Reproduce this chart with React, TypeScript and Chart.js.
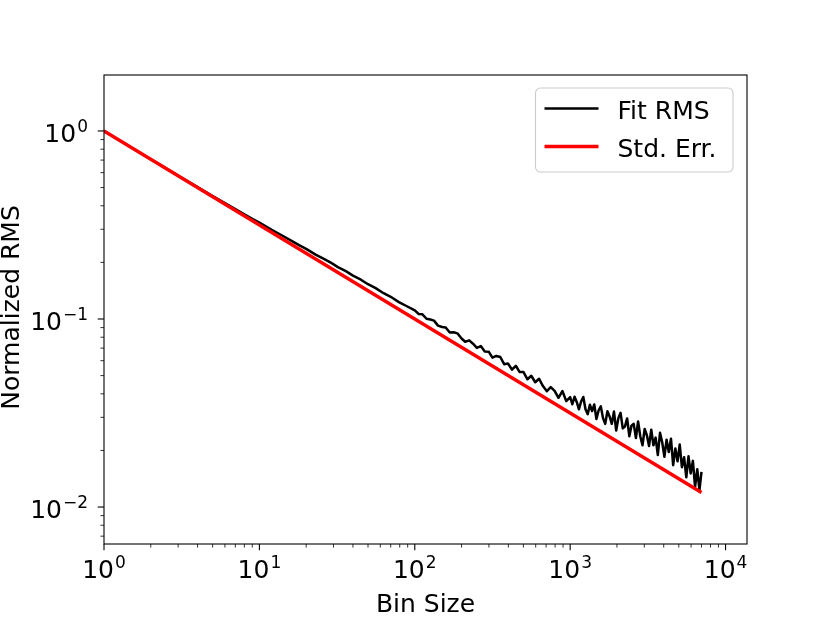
import React, { useEffect, useRef } from 'react';
import { Chart, registerables } from 'chart.js';

Chart.register(...registerables);

// Bin sizes and normalized RMS of the fit residuals
const binSizes = [
  1, 2, 3, 4, 5, 6, 7, 8, 9, 10, 12, 14, 16, 18, 20, 23, 26, 29, 32, 36, 40, 45, 50, 56, 63, 70, 79, 89,
  100, 106, 112, 119, 126, 133, 141, 150, 158, 168, 178, 188, 200, 211, 224, 237, 251, 266, 282, 299,
  316, 335, 355, 376, 398, 422, 447, 473, 501, 531, 562, 596, 631, 668, 708, 750, 794, 841, 891, 944,
  1000, 1033, 1067, 1102, 1139, 1176, 1215, 1255, 1297, 1339, 1384, 1429, 1476, 1525, 1575, 1627, 1681,
  1737, 1794, 1853, 1914, 1978, 2043, 2110, 2180, 2252, 2326, 2403, 2482, 2564, 2649, 2736, 2826, 2920,
  3016, 3116, 3218, 3325, 3434, 3548, 3665, 3786, 3911, 4040, 4173, 4311, 4453, 4600, 4752, 4909, 5071,
  5238, 5411, 5590, 5774, 5965, 6161, 6365, 6575, 6792, 7000,
];

const fitRms = [
  1.0, 0.707, 0.579, 0.5025, 0.4508, 0.4131, 0.3837, 0.3607, 0.3407, 0.3257, 0.2982, 0.278, 0.2613,
  0.247, 0.2359, 0.22, 0.2088, 0.1987, 0.1888, 0.1797, 0.17, 0.1618, 0.1531, 0.1459, 0.1371, 0.1312,
  0.1229, 0.1169,
  0.1111, 0.1063, 0.1059, 0.1003, 0.0994, 0.098, 0.0922, 0.0907, 0.0901, 0.0847, 0.085, 0.0839,
  0.0788, 0.0757, 0.077, 0.0739, 0.0702, 0.0718, 0.0672, 0.067, 0.0623, 0.0636, 0.0628, 0.0575,
  0.058, 0.0538, 0.0564, 0.0522, 0.0522, 0.0478, 0.0499, 0.0461, 0.0481, 0.044, 0.0413, 0.0434,
  0.0415, 0.0381, 0.0414, 0.0366,
  0.0384, 0.0352, 0.0386, 0.0362, 0.0331, 0.0364, 0.0385, 0.0331, 0.0312, 0.035,
  0.0324, 0.0351, 0.0294, 0.0327, 0.0343, 0.0297, 0.0277, 0.0323, 0.0303, 0.0277,
  0.0322, 0.0255, 0.0297, 0.0317, 0.0262, 0.0268, 0.0296, 0.0238, 0.0271, 0.0277,
  0.0233, 0.0285, 0.0238, 0.0213, 0.026, 0.0241, 0.0211, 0.0258, 0.0213, 0.0234,
  0.0189, 0.0248, 0.0221, 0.0185, 0.0228, 0.0196, 0.0231, 0.0167, 0.0205, 0.0175,
  0.0215, 0.0163, 0.0184, 0.0144, 0.0186, 0.0151, 0.0176, 0.0128, 0.0159, 0.0123,
  0.0154,
];

// Standard error line (straight in log-log), end points only
const stdErrBins = [1, 7000];
const stdErrValues = [1, 0.01195];

const seriesLabels = ['Fit RMS', 'Std. Err.'];
const seriesColors = ['#000000', '#ff0000'];
const xTickExponents = [0, 1, 2, 3, 4];
const yTickExponents = [-2, -1, 0];
const xTitle = 'Bin Size';
const yTitle = 'Normalized RMS';

const FONT = "'DejaVu Sans', sans-serif";

// draw "10^n" like matplotlib mathtext
function drawPower(ctx: CanvasRenderingContext2D, exp: number, x: number, y: number, align: string) {
  const base = '10';
  const sup = exp < 0 ? '\u2212' + Math.abs(exp) : String(exp);
  ctx.font = `25px ${FONT}`;
  const wb = ctx.measureText(base).width;
  ctx.font = `17px ${FONT}`;
  const ws = ctx.measureText(sup).width;
  const total = wb + 1 + ws;
  const left = align === 'center' ? x - total / 2 : x - total;
  ctx.textAlign = 'left';
  ctx.textBaseline = 'alphabetic';
  ctx.font = `25px ${FONT}`;
  ctx.fillText(base, left, y);
  ctx.font = `17px ${FONT}`;
  ctx.fillText(sup, left + wb + 1, y - 10);
}

const axesPlugin = {
  id: 'mplAxes',
  afterDraw(chart: any) {
    const { ctx, chartArea } = chart;
    const xs = chart.scales.x;
    const ys = chart.scales.y;
    const { left, right, top, bottom } = chartArea;
    ctx.save();
    ctx.fillStyle = '#000';
    ctx.strokeStyle = '#000';

    // x ticks
    for (let e = 0; e <= 4; e++) {
      for (let m = 1; m <= 9; m++) {
        const v = m * Math.pow(10, e);
        if (v < xs.min || v > xs.max) continue;
        const px = xs.getPixelForValue(v);
        ctx.lineWidth = m === 1 ? 1.1 : 0.8;
        ctx.beginPath();
        ctx.moveTo(px, bottom);
        ctx.lineTo(px, bottom + (m === 1 ? 6.3 : 3.6));
        ctx.stroke();
      }
    }
    // y ticks
    for (let e = -3; e <= 0; e++) {
      for (let m = 1; m <= 9; m++) {
        const v = m * Math.pow(10, e);
        if (v < ys.min || v > ys.max) continue;
        const py = ys.getPixelForValue(v);
        ctx.lineWidth = m === 1 ? 1.1 : 0.8;
        ctx.beginPath();
        ctx.moveTo(left, py);
        ctx.lineTo(left - (m === 1 ? 6.3 : 3.6), py);
        ctx.stroke();
      }
    }

    // spines
    ctx.lineWidth = 1.1;
    ctx.strokeRect(left, top, right - left, bottom - top);

    // tick labels
    xTickExponents.forEach((e) => {
      drawPower(ctx, e, xs.getPixelForValue(Math.pow(10, e)), bottom + 34, 'center');
    });
    yTickExponents.forEach((e) => {
      drawPower(ctx, e, left - 16, ys.getPixelForValue(Math.pow(10, e)) + 11, 'right');
    });

    // axis titles
    ctx.font = `25px ${FONT}`;
    ctx.textAlign = 'center';
    ctx.textBaseline = 'alphabetic';
    ctx.fillText(xTitle, (left + right) / 2, bottom + 68);
    ctx.save();
    ctx.translate(18.5, (top + bottom) / 2 - 2);
    ctx.rotate(-Math.PI / 2);
    ctx.fillText(yTitle, 0, 0);
    ctx.restore();

    // legend
    const bx = right - 211.5;
    const by = top + 13;
    ctx.beginPath();
    ctx.roundRect(bx, by, 197.5, 84, 5);
    ctx.fillStyle = 'rgba(255,255,255,0.8)';
    ctx.fill();
    ctx.strokeStyle = '#cccccc';
    ctx.lineWidth = 1.1;
    ctx.stroke();
    const rows = [by + 20.5, by + 58.5];
    seriesLabels.forEach((label, i) => {
      ctx.strokeStyle = seriesColors[i];
      ctx.lineWidth = i === 0 ? 2.4 : 3.4;
      ctx.beginPath();
      ctx.moveTo(bx + 9, rows[i]);
      ctx.lineTo(bx + 63, rows[i]);
      ctx.stroke();
      ctx.fillStyle = '#000';
      ctx.font = `25px ${FONT}`;
      ctx.textAlign = 'left';
      ctx.fillText(label, bx + 82, rows[i] + 10);
    });

    ctx.restore();
  },
};

const App: React.FC = () => {
  const canvasRef = useRef<HTMLCanvasElement>(null);
  const chartRef = useRef<Chart | null>(null);

  useEffect(() => {
    if (chartRef.current) {
      chartRef.current.destroy();
    }
    const ctx = canvasRef.current!.getContext('2d')!;
    chartRef.current = new Chart(ctx, {
      type: 'line',
      data: {
        datasets: [
          {
            label: seriesLabels[0],
            data: binSizes.map((b, i) => ({ x: b, y: fitRms[i] })),
            borderColor: seriesColors[0],
            borderWidth: 2.5,
            pointRadius: 0,
            tension: 0,
            borderJoinStyle: 'round',
            order: 1,
          },
          {
            label: seriesLabels[1],
            data: stdErrBins.map((b, i) => ({ x: b, y: stdErrValues[i] })),
            borderColor: seriesColors[1],
            borderWidth: 3.4,
            pointRadius: 0,
            tension: 0,
            order: 0,
          },
        ],
      },
      options: {
        animation: false,
        responsive: true,
        maintainAspectRatio: false,
        events: [],
        layout: { padding: { left: 104, right: 83, top: 75, bottom: 79 } },
        scales: {
          x: { type: 'logarithmic', min: 1, max: 13740, display: false },
          y: { type: 'logarithmic', min: 0.00636, max: 1.984, display: false },
        },
        plugins: {
          legend: { display: false },
          tooltip: { enabled: false },
        },
      },
      plugins: [axesPlugin],
    });

    return () => {
      if (chartRef.current) {
        chartRef.current.destroy();
        chartRef.current = null;
      }
    };
  }, []);

  return (
    <div style={{ position: 'absolute', left: 0, top: 0, width: 830, height: 623, background: '#fff' }}>
      <canvas ref={canvasRef} />
    </div>
  );
};

export default App;
